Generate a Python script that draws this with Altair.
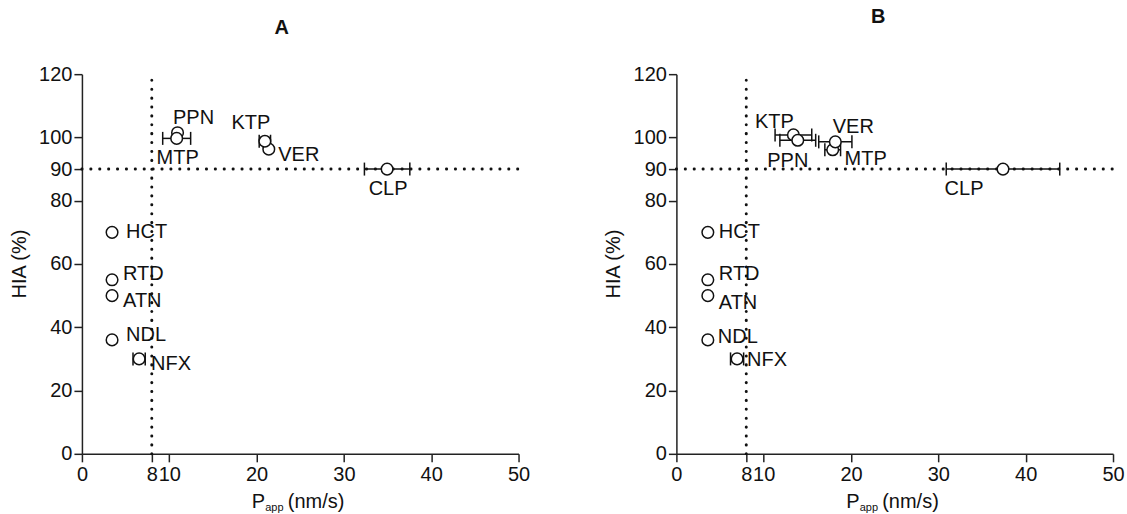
import altair as alt
import pandas as pd

# ---------------- data ----------------
names_a = ["HCT", "RTD", "ATN", "NDL", "NFX", "PPN", "MTP", "VER", "KTP", "CLP"]
papp_a = [3.45, 3.45, 3.45, 3.45, 6.55, 10.95, 10.85, 21.4, 20.95, 34.95]
hia_a = [70, 55, 50, 36, 30, 101.5, 99.7, 96.3, 98.8, 90]
err_a = [0, 0, 0, 0, 0.7, 0, 1.6, 0, 0.65, 2.6]

names_b = ["HCT", "RTD", "ATN", "NDL", "NFX", "KTP", "PPN", "MTP", "VER", "CLP"]
papp_b = [3.6, 3.6, 3.6, 3.6, 6.95, 13.4, 13.9, 17.9, 18.2, 37.4]
hia_b = [70, 55, 50, 36, 30, 100.8, 99.1, 96.1, 98.6, 90]
err_b = [0, 0, 0, 0, 0.75, 2.1, 2.05, 0.9, 1.9, 6.5]

x_ticks = [0, 8, 10, 20, 30, 40, 50]
y_ticks = [0, 20, 40, 60, 80, 90, 100, 120]
x_domain = [0, 50]
y_domain = [0, 120]
x_cut = 8
y_cut = 90
panel_titles = ["A", "B"]
y_title = "HIA (%)"
x_title_main = "P"
x_title_sub = "app"
x_title_unit = "(nm/s)"

# ---------------- label placement (pixel offsets: align, dx, dy) ----------------
label_pos_a = {
    "HCT": ("left", 14, 0), "RTD": ("left", 11, -6), "ATN": ("left", 11, 5),
    "NDL": ("left", 14, -5), "NFX": ("left", 12, 5), "PPN": ("center", 16, -15),
    "MTP": ("center", 1, 20), "VER": ("center", 30, 6), "KTP": ("center", -14, -18),
    "CLP": ("center", 1, 20),
}
label_pos_b = {
    "HCT": ("left", 11, 0), "RTD": ("left", 11, -6), "ATN": ("left", 11, 7),
    "NDL": ("left", 10, -3), "NFX": ("left", 10, 1), "KTP": ("center", -19, -13),
    "PPN": ("center", -10, 21), "VER": ("center", 18, -15), "MTP": ("center", 33, 9),
    "CLP": ("center", -39, 20),
}

FONT = "Liberation Sans"
INK = "#111111"
FS = 20
W, H = 437, 380

x_scale = alt.Scale(domain=x_domain, nice=False, zero=False)
y_scale = alt.Scale(domain=y_domain, nice=False, zero=False)
axis_common = dict(
    title=None, grid=False, labelFlush=False, labelOverlap=False, tickSize=8,
    domainWidth=1.5, tickWidth=1.5, domainColor="#222222", tickColor="#222222",
    labelColor=INK, labelFontSize=FS, labelFont=FONT,
)
x_axis = alt.Axis(values=x_ticks, labelPadding=3, **axis_common)
y_axis = alt.Axis(values=y_ticks, labelPadding=2, **axis_common)


def X(field):
    return alt.X(field, type="quantitative", scale=x_scale, axis=x_axis)


def Y(field):
    return alt.Y(field, type="quantitative", scale=y_scale, axis=y_axis)


def panel(names, xs, ys, errs, label_pos, title, title_x, title_y):
    df = pd.DataFrame({"name": names, "papp": xs, "hia": ys, "err": errs})
    df["lo"] = df["papp"] - df["err"]
    df["hi"] = df["papp"] + df["err"]
    df_err = df[df["err"] > 0]

    dots = dict(strokeDash=[0.1, 8.8], strokeWidth=3, strokeCap="round", color=INK)
    vline = alt.Chart(pd.DataFrame({"papp": [x_cut], "hia": [y_domain[0]], "hia_end": [y_domain[1]]})).mark_rule(
        **dots).encode(x=X("papp"), y=Y("hia"), y2="hia_end:Q")
    hline = alt.Chart(pd.DataFrame({"hia": [y_cut], "papp": [x_domain[0]], "papp_end": [x_domain[1]]})).mark_rule(
        **dots).encode(y=Y("hia"), x=X("papp"), x2="papp_end:Q")

    bars = alt.Chart(df_err).mark_rule(strokeWidth=1.5, color=INK).encode(
        x=X("lo"), x2="hi:Q", y=Y("hia"))
    cap_lo = alt.Chart(df_err).mark_tick(orient="vertical", size=13, thickness=1.5, color=INK, opacity=1).encode(
        x=X("lo"), y=Y("hia"))
    cap_hi = alt.Chart(df_err).mark_tick(orient="vertical", size=13, thickness=1.5, color=INK, opacity=1).encode(
        x=X("hi"), y=Y("hia"))

    pts = alt.Chart(df).mark_point(
        shape="circle", filled=True, fill="white", stroke=INK, strokeWidth=1.5, size=135, opacity=1
    ).encode(x=X("papp"), y=Y("hia"))

    labels = []
    for n in names:
        align, dx, dy = label_pos[n]
        labels.append(
            alt.Chart(df).transform_filter(alt.datum.name == n).mark_text(
                align=align, baseline="middle", dx=dx, dy=dy, fontSize=FS, font=FONT, color=INK
            ).encode(x=X("papp"), y=Y("hia"), text="name:N")
        )

    ttl = alt.Chart(pd.DataFrame({"t": [title]})).mark_text(
        fontSize=20, fontWeight="bold", font=FONT, color=INK, align="center", baseline="middle"
    ).encode(x=alt.value(title_x), y=alt.value(title_y), text="t:N")

    ytl = alt.Chart(pd.DataFrame({"t": [y_title]})).mark_text(
        fontSize=FS, font=FONT, color=INK, angle=270, align="center", baseline="middle"
    ).encode(x=alt.value(-62), y=alt.value(H / 2), text="t:N")

    xt1 = alt.Chart(pd.DataFrame({"t": [x_title_main]})).mark_text(
        fontSize=FS, font=FONT, color=INK, align="left", baseline="alphabetic"
    ).encode(x=alt.value(170), y=alt.value(H + 54), text="t:N")
    xt2 = alt.Chart(pd.DataFrame({"t": [x_title_sub]})).mark_text(
        fontSize=11, font=FONT, color=INK, align="left", baseline="alphabetic"
    ).encode(x=alt.value(183.5), y=alt.value(H + 57), text="t:N")
    xt3 = alt.Chart(pd.DataFrame({"t": [x_title_unit]})).mark_text(
        fontSize=FS, font=FONT, color=INK, align="left", baseline="alphabetic"
    ).encode(x=alt.value(206), y=alt.value(H + 54), text="t:N")

    return alt.layer(vline, hline, bars, cap_lo, cap_hi, pts, *labels, ttl, ytl, xt1, xt2, xt3).properties(
        width=W, height=H)


pa = panel(names_a, papp_a, hia_a, err_a, label_pos_a, panel_titles[0], 200, -46)
pb = panel(names_b, papp_b, hia_b, err_b, label_pos_b, panel_titles[1], 202, -57)

chart = alt.hconcat(pa, pb, spacing=158).properties(
    bounds="flush",
    padding={"left": 10, "top": 7, "right": 2, "bottom": 0},
    background="white",
).configure_view(stroke=None)

chart.save("out.html", embed_options={"renderer": "svg", "actions": False})
